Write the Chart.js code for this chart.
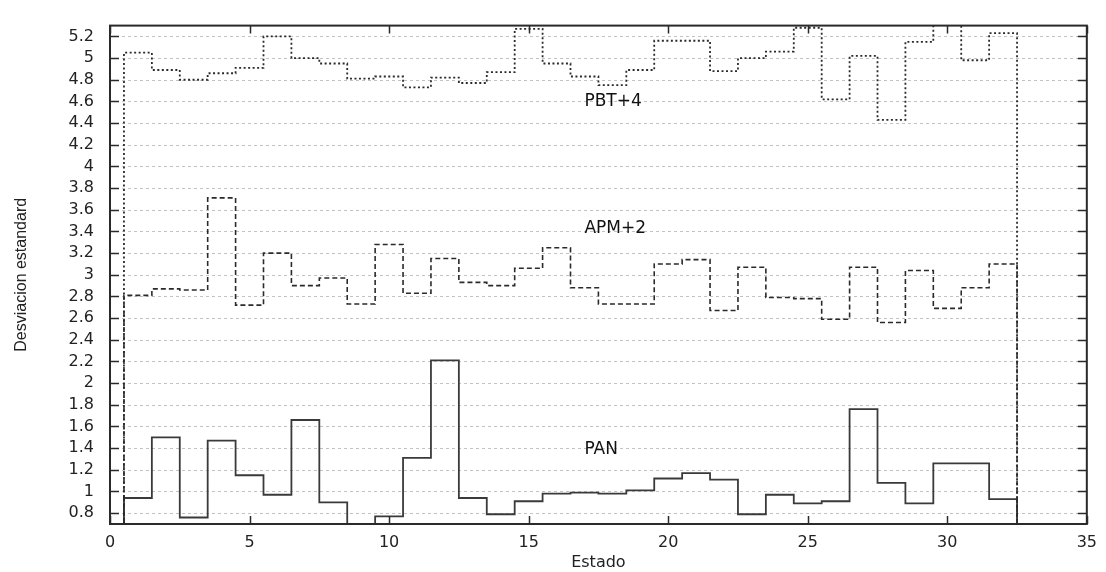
<!DOCTYPE html>
<html>
<head>
<meta charset="utf-8">
<script src="https://cdn.jsdelivr.net/npm/chart.js@4.4.1/dist/chart.umd.min.js"></script>
<style>
  html, body { margin: 0; padding: 0; background: #ffffff; }
  #wrap { width: 1106px; height: 572px; }
</style>
</head>
<body>
<div id="wrap"><canvas id="c" width="1106" height="572"></canvas></div>
<script>
// ---- data ----
const STATES = [1,2,3,4,5,6,7,8,9,10,11,12,13,14,15,16,17,18,19,20,21,22,23,24,25,26,27,28,29,30,31,32];
const PAN   = [0.94,1.50,0.76,1.47,1.15,0.97,1.66,0.90,0.65,0.77,1.31,2.21,0.94,0.79,0.91,0.98,0.99,0.98,1.01,1.12,1.17,1.11,0.79,0.97,0.89,0.91,1.76,1.08,0.89,1.26,1.26,0.93];
const APM2  = [2.81,2.87,2.86,3.71,2.72,3.20,2.90,2.97,2.73,3.28,2.83,3.15,2.93,2.90,3.06,3.25,2.88,2.73,2.73,3.10,3.14,2.67,3.07,2.79,2.78,2.59,3.07,2.56,3.04,2.69,2.88,3.10];
const PBT4  = [5.05,4.89,4.80,4.86,4.91,5.20,5.00,4.95,4.81,4.83,4.73,4.82,4.77,4.87,5.27,4.95,4.83,4.75,4.89,5.16,5.16,4.88,5.00,5.06,5.28,4.62,5.02,4.43,5.15,5.35,4.98,5.23];
const SERIES_NAMES = ['PAN', 'APM+2', 'PBT+4'];
const X_TICKS = [0,5,10,15,20,25,30,35];
const Y_TICKS = [0.8,1,1.2,1.4,1.6,1.8,2,2.2,2.4,2.6,2.8,3,3.2,3.4,3.6,3.8,4,4.2,4.4,4.6,4.8,5,5.2];
const X_MIN = 0, X_MAX = 35, Y_MIN = 0.7, Y_MAX = 5.3;
const X_TITLE = 'Estado';
const Y_TITLE = 'Desviacion estandard';
// in-plot label anchors (data coordinates)
const LABEL_X = [17, 17, 17];
const LABEL_Y = [1.39, 3.43, 4.60];

// histogram-step outline: starts and ends on the axis baseline
function histSteps(vals) {
  const pts = [{x: STATES[0] - 0.5, y: Y_MIN}];
  for (let i = 0; i < vals.length; i++) pts.push({x: STATES[i] - 0.5, y: vals[i]});
  const last = STATES[STATES.length - 1] + 0.5;
  pts.push({x: last, y: vals[vals.length - 1]});
  pts.push({x: last, y: Y_MIN});
  return pts;
}

const INK = '#2a2a2a';
const TICK_FONT = {family: 'DejaVu Sans', size: 16};

const framePlugin = {
  id: 'frame',
  beforeDraw(chart) {
    const ctx = chart.ctx;
    ctx.save();
    ctx.fillStyle = '#ffffff';
    ctx.fillRect(0, 0, chart.width, chart.height);
    ctx.restore();
  },
  beforeDatasetsDraw(chart) {
    const {ctx, chartArea: a, scales: {y}} = chart;
    ctx.save();
    ctx.strokeStyle = '#c2c2c2';
    ctx.lineWidth = 1;
    ctx.setLineDash([3, 3]);
    ctx.beginPath();
    for (const v of Y_TICKS) {
      const py = Math.round(y.getPixelForValue(v)) + 0.5;
      ctx.moveTo(a.left, py); ctx.lineTo(a.right, py);
    }
    ctx.stroke();
    ctx.restore();
  },
  afterDatasetsDraw(chart) {
    const {ctx, chartArea: a, scales: {x, y}} = chart;
    ctx.save();
    // in-plot series labels
    ctx.fillStyle = '#111';
    ctx.font = '17px "DejaVu Sans"';
    ctx.textAlign = 'left';
    ctx.textBaseline = 'middle';
    for (let i = 0; i < SERIES_NAMES.length; i++) {
      ctx.fillText(SERIES_NAMES[i], x.getPixelForValue(LABEL_X[i]), y.getPixelForValue(LABEL_Y[i]));
    }
    // inward tick marks
    ctx.strokeStyle = INK;
    ctx.lineWidth = 1.5;
    ctx.beginPath();
    for (const v of Y_TICKS) {
      const py = Math.round(y.getPixelForValue(v)) + 0.5;
      ctx.moveTo(a.left, py); ctx.lineTo(a.left + 9, py);
      ctx.moveTo(a.right, py); ctx.lineTo(a.right - 9, py);
    }
    for (const v of X_TICKS) {
      const px = Math.round(x.getPixelForValue(v)) + 0.5;
      ctx.moveTo(px, a.bottom); ctx.lineTo(px, a.bottom - 8);
      ctx.moveTo(px, a.top); ctx.lineTo(px, a.top + 8);
    }
    ctx.stroke();
    // frame
    ctx.lineWidth = 2;
    ctx.strokeRect(a.left, a.top, a.right - a.left, a.bottom - a.top);
    ctx.restore();
  }
};

new Chart(document.getElementById('c'), {
  type: 'line',
  data: {
    datasets: [
      { label: SERIES_NAMES[2], data: histSteps(PBT4), stepped: true, borderColor: INK, borderWidth: 1.8, borderDash: [2, 2.5], pointRadius: 0, fill: false, clip: 1 },
      { label: SERIES_NAMES[1], data: histSteps(APM2), stepped: true, borderColor: INK, borderWidth: 1.6, borderDash: [5, 3], pointRadius: 0, fill: false, clip: 1 },
      { label: SERIES_NAMES[0], data: histSteps(PAN),  stepped: true, borderColor: '#3a3a3a', borderWidth: 1.8, pointRadius: 0, fill: false, clip: 1 }
    ]
  },
  options: {
    responsive: false,
    animation: false,
    events: [],
    layout: { padding: { left: 0, top: 16, right: 16, bottom: 0 } },
    plugins: { legend: { display: false }, tooltip: { enabled: false }, title: { display: false } },
    scales: {
      x: {
        type: 'linear', min: X_MIN, max: X_MAX,
        afterBuildTicks: s => { s.ticks = X_TICKS.map(v => ({value: v})); },
        afterFit: s => { s.height = 48; },
        grid: { display: false, drawTicks: false },
        border: { display: false },
        ticks: { font: TICK_FONT, color: '#222', padding: 9, maxRotation: 0, callback: v => String(v) },
        title: { display: true, text: X_TITLE, font: {family: 'DejaVu Sans', size: 16}, color: '#222', padding: {top: 0, bottom: 0} }
      },
      y: {
        type: 'linear', min: Y_MIN, max: Y_MAX,
        afterBuildTicks: s => { s.ticks = Y_TICKS.map(v => ({value: v})); },
        afterFit: s => { s.width = 110; },
        grid: { display: false, drawTicks: false },
        border: { display: false },
        ticks: { font: TICK_FONT, color: '#222', padding: 16, callback: v => String(v) },
        title: { display: true, text: Y_TITLE, font: {family: 'Liberation Sans', size: 16}, color: '#222', padding: {top: 12, bottom: 0} }
      }
    }
  },
  plugins: [framePlugin]
});
</script>
</body>
</html>
